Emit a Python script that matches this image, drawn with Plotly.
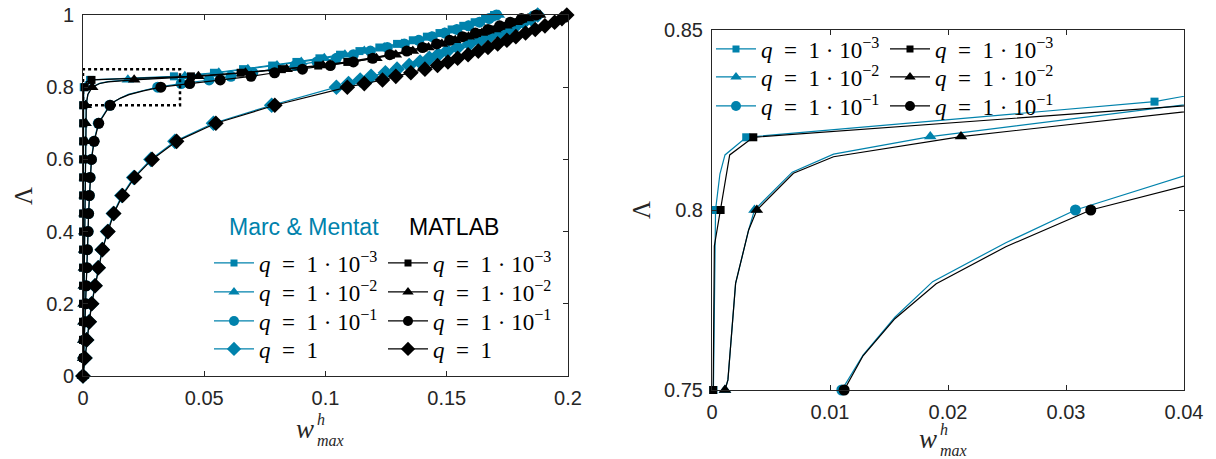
import plotly.graph_objects as go

BLUE = "#0082AC"
BLACK = "#000000"
AXC = "#262626"
W_FIG, H_FIG = 1216, 459

# ---------------- data ----------------
LAM_V = [0, 0.05, 0.10, 0.15, 0.20, 0.25, 0.30, 0.35, 0.40, 0.45, 0.50, 0.55, 0.60, 0.65, 0.70, 0.75]
LAM_TOP = [0.84, 0.85, 0.86, 0.87, 0.88, 0.89, 0.90, 0.91, 0.92, 0.93, 0.94, 0.95, 0.96, 0.97, 0.98, 0.99, 1.00]
LAM_TOP_C = [0.85, 0.86, 0.87, 0.88, 0.89, 0.90, 0.91, 0.92, 0.93, 0.94, 0.95, 0.96, 0.97, 0.98, 0.99, 1.00]
LAM_Q1 = [0, 0.05, 0.10, 0.15, 0.20, 0.25, 0.30, 0.35, 0.40, 0.45, 0.50, 0.55, 0.60, 0.65, 0.70, 0.75, 0.80,
          0.81, 0.82, 0.83, 0.84, 0.85, 0.86, 0.87, 0.88, 0.89, 0.90, 0.91, 0.92, 0.93, 0.94, 0.95, 0.96,
          0.97, 0.98, 0.99, 1.00]

# q = 1e-3
MM3_LAM = LAM_V + [0.80, 0.810, 0.8153, 0.8202, 0.8301] + LAM_TOP
MM3_W = [0, 0.00001, 0.00002, 0.00002, 0.00003, 0.00004, 0.00005, 0.00005, 0.00006, 0.00007, 0.00008,
         0.00009, 0.00009, 0.0001, 0.00011, 0.00012,
         0.0003, 0.00067, 0.0011, 0.0029, 0.0375,
         0.054, 0.066, 0.078, 0.088, 0.0975, 0.106, 0.114, 0.1222, 0.1295, 0.136, 0.1418, 0.147, 0.152,
         0.1568, 0.1615, 0.1658, 0.1695]
MM3_MK = [1] * 16 + [1, 0, 0, 1, 1] + [1] * 17

MT3_LAM = LAM_V + [0.79, 0.80, 0.8153, 0.8202, 0.83] + LAM_TOP
MT3_W = [0, 0.00001, 0.00001, 0.00002, 0.00003, 0.00003, 0.00004, 0.00005, 0.00005, 0.00006, 0.00007,
         0.00007, 0.00008, 0.00009, 0.00009, 0.0001,
         0.0002, 0.00073, 0.0015, 0.0035, 0.0445,
         0.065, 0.082, 0.097, 0.109, 0.119, 0.127, 0.134, 0.1405, 0.146, 0.1515, 0.157, 0.1625, 0.168,
         0.1725, 0.1768, 0.1815, 0.1872]
MT3_MK = [1] * 16 + [0, 1, 0, 1, 1] + [1] * 17

# q = 1e-2
MM2_LAM = LAM_V + [0.7528, 0.7796, 0.7944, 0.80, 0.8105, 0.8155, 0.8204, 0.83] + LAM_TOP
MM2_W = [0, 0.00007, 0.00015, 0.00022, 0.00029, 0.00037, 0.00044, 0.00051, 0.00059, 0.00066, 0.00073,
         0.00081, 0.00088, 0.00095, 0.00103, 0.0011,
         0.00135, 0.0020, 0.0031, 0.0036, 0.0068, 0.0103, 0.0185, 0.042,
         0.056, 0.068, 0.080, 0.090, 0.0995, 0.108, 0.116, 0.1242, 0.1315, 0.138, 0.1438, 0.149, 0.154,
         0.1588, 0.1635, 0.1678, 0.1715]
MM2_MK = [1] * 16 + [0, 0, 0, 1, 0, 0, 1, 1] + [1] * 17

MT2_LAM = LAM_V + [0.7528, 0.7796, 0.7944, 0.80, 0.8102, 0.8148, 0.8204, 0.83] + LAM_TOP
MT2_W = [0, 0.00007, 0.00015, 0.00022, 0.00029, 0.00037, 0.00044, 0.00051, 0.00059, 0.00066, 0.00073,
         0.00081, 0.00088, 0.00095, 0.00103, 0.0011,
         0.00135, 0.0020, 0.0031, 0.0038, 0.0069, 0.0103, 0.0211, 0.0476,
         0.067, 0.084, 0.099, 0.111, 0.121, 0.129, 0.136, 0.1425, 0.148, 0.1535, 0.159, 0.1645, 0.170,
         0.1745, 0.1788, 0.1835, 0.1885]
MT2_MK = [1] * 16 + [0, 0, 0, 1, 0, 0, 1, 1] + [1] * 17

# q = 1e-1
MM1_LAM = LAM_V + [0.7597, 0.7702, 0.7801, 0.7909, 0.80, 0.81, 0.82, 0.83, 0.84] + LAM_TOP_C
MM1_W = [0, 0.0003, 0.0005, 0.0008, 0.0011, 0.0013, 0.0016, 0.0018, 0.0021, 0.0023, 0.0026, 0.0029,
         0.0034, 0.0045, 0.0063, 0.0110,
         0.0128, 0.0155, 0.0187, 0.0249, 0.0308, 0.0405, 0.052, 0.061, 0.070,
         0.0785, 0.0875, 0.0965, 0.1045, 0.1115, 0.1185, 0.1255, 0.1325, 0.1385, 0.144, 0.1492, 0.1542,
         0.159, 0.1635, 0.1675, 0.1705]
MM1_MK = [1] * 16 + [0, 0, 0, 0, 1, 1, 1, 1, 1] + [1] * 16

MT1_LAM = LAM_V + [0.7595, 0.7698, 0.7795, 0.7898, 0.80, 0.81, 0.82, 0.83, 0.84] + LAM_TOP_C
MT1_W = [0, 0.0003, 0.0005, 0.0008, 0.0011, 0.0013, 0.0016, 0.0018, 0.0021, 0.0023, 0.0026, 0.0029,
         0.0035, 0.0046, 0.0065, 0.0112,
         0.0128, 0.0155, 0.0190, 0.0249, 0.0321, 0.044, 0.0566, 0.0693, 0.079,
         0.0905, 0.102, 0.1115, 0.1195, 0.1265, 0.1335, 0.140, 0.1458, 0.1512, 0.1565, 0.1618, 0.167,
         0.1718, 0.1762, 0.1808, 0.1868]
MT1_MK = [1] * 16 + [0, 0, 0, 0, 1, 1, 1, 1, 1] + [1] * 16

# q = 1
MM0_LAM = LAM_Q1
MM0_W = [0, 0.0008, 0.0015, 0.0025, 0.0035, 0.0049, 0.0062, 0.0079, 0.0101, 0.0125, 0.0160, 0.0209,
         0.0280, 0.0379, 0.0538, 0.0778, 0.1045, 0.1095, 0.1143, 0.1188, 0.1247, 0.1295, 0.1345, 0.139,
         0.1428, 0.1465, 0.1502, 0.1545, 0.1593, 0.1636, 0.1675, 0.1715, 0.1752, 0.1785, 0.1818, 0.1848,
         0.1875]
MM0_MK = [1] * 37

MT0_LAM = LAM_Q1
MT0_W = [0, 0.0008, 0.0015, 0.0026, 0.0036, 0.0050, 0.0063, 0.0080, 0.0103, 0.0127, 0.0163, 0.0213,
         0.0285, 0.0386, 0.0548, 0.0791, 0.109, 0.116, 0.1235, 0.129, 0.1352, 0.141, 0.1462, 0.1505,
         0.1545, 0.1588, 0.163, 0.167, 0.171, 0.1748, 0.1785, 0.1825, 0.1865, 0.1905, 0.1945, 0.1975,
         0.1995]
MT0_MK = [1] * 37

SP = "\u00a0"
LABELS = {"3": f"<i>q</i>{SP}{SP}={SP}{SP}1{SP}·{SP}10<sup>\u22123</sup>",
          "2": f"<i>q</i>{SP}{SP}={SP}{SP}1{SP}·{SP}10<sup>\u22122</sup>",
          "1": f"<i>q</i>{SP}{SP}={SP}{SP}1{SP}·{SP}10<sup>\u22121</sup>",
          "0": f"<i>q</i>{SP}{SP}={SP}{SP}1"}

X_TICKS_L = [0, 0.05, 0.1, 0.15, 0.2]
Y_TICKS_L = [0, 0.2, 0.4, 0.6, 0.8, 1]
X_TICKS_R = [0, 0.01, 0.02, 0.03, 0.04]
Y_TICKS_R = [0.75, 0.8, 0.85]

SERIES = [
    ("mm", "3", MM3_W, MM3_LAM, MM3_MK, BLUE, "square", 8),
    ("mm", "2", MM2_W, MM2_LAM, MM2_MK, BLUE, "triangle-up", 11),
    ("mm", "1", MM1_W, MM1_LAM, MM1_MK, BLUE, "circle", 11),
    ("mm", "0", MM0_W, MM0_LAM, MM0_MK, BLUE, "diamond", 12),
    ("mt", "3", MT3_W, MT3_LAM, MT3_MK, BLACK, "square", 8),
    ("mt", "2", MT2_W, MT2_LAM, MT2_MK, BLACK, "triangle-up", 11),
    ("mt", "1", MT1_W, MT1_LAM, MT1_MK, BLACK, "circle", 11),
    ("mt", "0", MT0_W, MT0_LAM, MT0_MK, BLACK, "diamond", 12),
]

fig = go.Figure()

panels = [("x", "y", (0, 0.2), (0, 1)), ("x2", "y2", (0, 0.04), (0.75, 0.85))]

for xa, ya, xr, yr in panels:
    for grp, q, w, lam, mk, col, sym, sz in SERIES:
        if xa == "x2" and q == "0":
            continue
        fig.add_trace(go.Scatter(x=w, y=lam, mode="lines", xaxis=xa, yaxis=ya,
                                 line=dict(color=col, width=1.2), showlegend=False, hoverinfo="skip"))
        keep = [i for i in range(len(w))
                if mk[i] and xr[0] <= w[i] <= xr[1] and yr[0] - 1e-9 <= lam[i] <= yr[1]]
        fig.add_trace(go.Scatter(x=[w[i] for i in keep], y=[lam[i] for i in keep], mode="markers",
                                 xaxis=xa, yaxis=ya, cliponaxis=False,
                                 marker=dict(color=col, symbol=sym, size=sz, line=dict(width=0)),
                                 showlegend=False, hoverinfo="skip"))

# legend entries: one single-entry legend per row so rows sit where the reference has them
LEG_ROWS_L = [263, 292, 321, 349]
LEG_ROWS_R = [49, 77, 106]
LEG_X = {("x", "mm"): 209, ("x", "mt"): 383, ("x2", "mm"): 711, ("x2", "mt"): 885}
leg_layout = {}
leg_idx = 0
for xa, ya, xr, yr in panels:
    for grp, q, w, lam, mk, col, sym, sz in SERIES:
        if xa == "x2" and q == "0":
            continue
        row = ["3", "2", "1", "0"].index(q)
        ypix = (LEG_ROWS_L if xa == "x" else LEG_ROWS_R)[row]
        leg_idx += 1
        lname = "legend" if leg_idx == 1 else f"legend{leg_idx}"
        fig.add_trace(go.Scatter(x=[None], y=[None], mode="lines+markers", xaxis=xa, yaxis=ya,
                                 name=LABELS[q], legend=lname,
                                 line=dict(color=col, width=1.2),
                                 marker=dict(color=col, symbol=sym, size=sz - 1, line=dict(width=0))))
        leg_layout[lname] = dict(x=LEG_X[(xa, grp)] / W_FIG, y=1 - ypix / H_FIG,
                                 xanchor="left", yanchor="middle", bgcolor="rgba(0,0,0,0)",
                                 borderwidth=0, itemwidth=40, itemclick=False, itemdoubleclick=False,
                                 font=dict(family="Liberation Serif", size=23, color="black"))

axis_common = dict(showgrid=False, zeroline=False, showline=True, linecolor=AXC, linewidth=1,
                   mirror="ticks", ticks="inside", ticklen=5, tickcolor=AXC, automargin=False,
                   ticklabelstandoff=4,
                   tickfont=dict(family="Liberation Sans", size=20, color=AXC))


def px_x(p):
    return p / W_FIG


def px_y(p):
    return 1 - p / H_FIG


fig.update_layout(
    width=W_FIG, height=H_FIG, margin=dict(l=0, r=0, t=0, b=0, autoexpand=False),
    paper_bgcolor="white", plot_bgcolor="white",
    xaxis=dict(domain=[px_x(83), px_x(568)], range=[0, 0.2], anchor="y",
               tickvals=X_TICKS_L, ticktext=["0", "0.05", "0.1", "0.15", "0.2"], **axis_common),
    yaxis=dict(domain=[px_y(376), px_y(15)], range=[0, 1], anchor="x",
               tickvals=Y_TICKS_L, ticktext=["0", "0.2", "0.4", "0.6", "0.8", "1"], **axis_common),
    xaxis2=dict(domain=[px_x(712), px_x(1184)], range=[0, 0.04], anchor="y2",
                tickvals=X_TICKS_R, ticktext=["0", "0.01", "0.02", "0.03", "0.04"], **axis_common),
    yaxis2=dict(domain=[px_y(390), px_y(30)], range=[0.75, 0.85], anchor="x2",
                tickvals=Y_TICKS_R, ticktext=["0.75", "0.8", "0.85"], **axis_common),
    **leg_layout,
)

# dotted zoom rectangle
fig.add_shape(type="rect", xref="x", yref="y", x0=0, x1=0.04, y0=0.75, y1=0.85,
              line=dict(color="black", width=2.5, dash="dot"))

ann = []
ann.append(dict(text="Marc & Mentat", x=px_x(228), y=px_y(227), xanchor="left", yanchor="middle",
                font=dict(family="Liberation Sans", size=23, color=BLUE)))
ann.append(dict(text="MATLAB", x=px_x(408), y=px_y(227), xanchor="left", yanchor="middle",
                font=dict(family="Liberation Sans", size=23, color="black")))
for cx, cy in [(24, 196), (642, 210)]:
    ann.append(dict(text="\u039b", x=px_x(cx), y=px_y(cy), xanchor="center", yanchor="middle",
                    textangle=-90, font=dict(family="Liberation Serif", size=25, color=AXC)))
# x-axis titles: w with the stacked h / max indices
for wx, wy in [(308, 429), (931, 439)]:
    ann.append(dict(text="<i>w</i>", x=px_x(wx + 7), y=px_y(wy), xanchor="right", yanchor="middle",
                    font=dict(family="Liberation Serif", size=27, color=AXC)))
    ann.append(dict(text="<i>h</i><br><i>max</i>", x=px_x(wx + 8), y=px_y(wy + 1), xanchor="left",
                    yanchor="middle", align="left",
                    font=dict(family="Liberation Serif", size=16, color=AXC)))
for a in ann:
    a.update(xref="paper", yref="paper", showarrow=False, borderpad=0)
fig.update_layout(annotations=ann)

fig.write_html("out.html")
